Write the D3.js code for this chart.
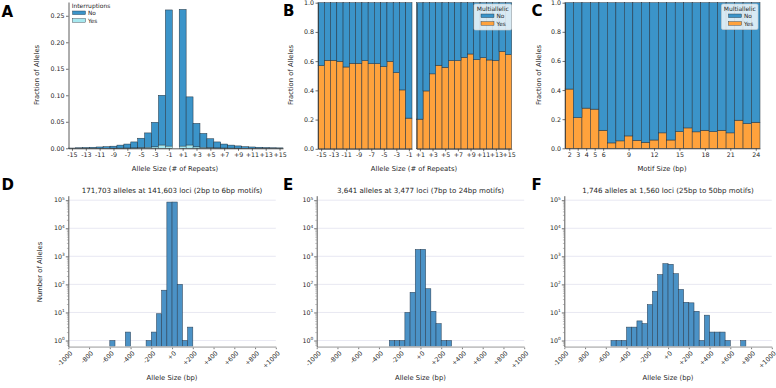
<!DOCTYPE html>
<html><head><meta charset="utf-8">
<script src="https://cdn.jsdelivr.net/npm/d3@7"></script>
<style>body{margin:0;background:#fff} svg{display:block} text{font-family:"DejaVu Sans",sans-serif;fill:#262626}</style>
</head><body><svg id="c" width="776" height="388"></svg>
<script>
// ---------- DATA ----------
const repeatNeg = [-15,-14,-13,-12,-11,-10,-9,-8,-7,-6,-5,-4,-3,-2,-1];
const repeatPos = [1,2,3,4,5,6,7,8,9,10,11,12,13,14,15];
const repeatTicksNeg = [-15,-13,-11,-9,-7,-5,-3,-1];
const repeatTicksPos = [1,3,5,7,9,11,13,15];
// Panel A: fraction of alleles (stacked: Yes at bottom, No on top)
const aNoNeg  = [0.0005,0.001,0.0015,0.002,0.0025,0.003,0.0038,0.0057,0.0076,0.0114,0.018,0.0275,0.0465,0.094,0.257];
const aYesNeg = [0,0,0,0,0,0,0.0002,0.0003,0.0004,0.0006,0.001,0.0015,0.0025,0.006,0.004];
const aNoPos  = [0.258,0.091,0.0445,0.0265,0.017,0.0114,0.0076,0.0057,0.0043,0.003,0.0025,0.002,0.0015,0.001,0.0008];
const aYesPos = [0.004,0.006,0.0025,0.0015,0.001,0.0006,0.0004,0.0003,0.0002,0,0,0,0,0,0];
const aYTicks = [0,0.05,0.10,0.15,0.20,0.25];
// Panel B: multiallelic "Yes" fraction by allele size
const bYesNeg = [0.569,0.606,0.606,0.599,0.560,0.585,0.585,0.604,0.583,0.583,0.563,0.599,0.522,0.403,0.210];
const bYesPos = [0.203,0.396,0.513,0.572,0.558,0.604,0.604,0.626,0.649,0.610,0.624,0.608,0.604,0.667,0.645];
const fracTicks = [0,0.2,0.4,0.6,0.8,1.0];
// Panel C: multiallelic "Yes" fraction by motif size
const motifSizes = [2,3,4,5,6,7,8,9,10,11,12,13,14,15,16,17,18,19,20,21,22,23,24];
const cYes = [0.407,0.211,0.276,0.269,0.124,0.037,0.051,0.085,0.055,0.041,0.057,0.106,0.057,0.115,0.140,0.113,0.124,0.115,0.124,0.106,0.193,0.170,0.179];
const motifTicks = [2,3,4,5,6,9,12,15,18,21,24];
// Panels D-F: allele size histograms (50bp bins, bin start in bp)
const binWidth = 50;
const dBinStart = [-600,-450,-250,-200,-150,-100,-50,0,50,100,150];
const dCounts   = [1,2,1,2,9,62,85600,86000,100,1,3];
const eBinStart = [-300,-250,-200,-150,-100,-50,0,50,100,150,200,250];
const eCounts   = [1,1,1,10,52,1750,1770,70,11,4,1,1];
const fBinStart = [-550,-500,-450,-400,-350,-300,-250,-200,-150,-100,-50,0,50,100,150,200,250,300,350,400,450,500,550,700];
const fCounts   = [1,1,1,3,3,5,4,19,57,223,545,520,240,66,23,22,11,1,8,2,2,2,1,1];
const bpTicks = [-1000,-800,-600,-400,-200,0,200,400,600,800,1000];
const bpTickLabels = ["-1000","-800","-600","-400","-200","+0","+200","+400","+600","+800","+1000"];
const logTicks = [1,10,100,1000,10000,100000];
const logTickExp = ["0","1","2","3","4","5"];
const titles = ["171,703 alleles at 141,603 loci (2bp to 6bp motifs)","3,641 alleles at 3,477 loci (7bp to 24bp motifs)","1,746 alleles at 1,560 loci (25bp to 50bp motifs)"];

// ---------- STYLE ----------
const BLUE = "#3b94c9", ORANGE = "#ffa23c", CYAN = "#a6e8ef", EDGE = "#22303c";
const HBLUE = "#4b92c6", HEDGE = "#2c4257";
const TF = 6.3, LF = 6.8;

const svg = d3.select("#c");
const signFmt = d => d > 0 ? "+" + d : String(d);

function styleAxis(g){
  g.selectAll("path.domain").attr("stroke","#333").attr("stroke-width",0.8);
  g.selectAll(".tick line").attr("stroke","#333").attr("stroke-width",0.7);
  g.selectAll(".tick text").attr("font-size",TF).attr("font-family","DejaVu Sans").attr("fill","#333");
}
function letter(t,x,y){
  svg.append("text").attr("x",x).attr("y",y).text(t)
    .attr("font-family","Liberation Sans, Arial, sans-serif").attr("font-weight","bold")
    .attr("font-size",15).style("fill","#000");
}
function yLabel(t,x,y){
  svg.append("text").attr("transform",`translate(${x},${y}) rotate(-90)`).attr("text-anchor","middle")
    .attr("font-size",LF).text(t);
}
function xLabel(t,x,y){
  svg.append("text").attr("x",x).attr("y",y).attr("text-anchor","middle").attr("font-size",LF).text(t);
}
function legend(x,y,w,h,title,items,framed){
  const g = svg.append("g").attr("transform",`translate(${x},${y})`);
  if(framed) g.append("rect").attr("width",w).attr("height",h).attr("rx",1.5)
      .attr("fill","#fff").attr("fill-opacity",0.8).attr("stroke","#ccc").attr("stroke-width",0.6);
  g.append("text").attr("x",w/2).attr("y",6.6).attr("text-anchor","middle").attr("font-size",6).text(title);
  items.forEach((it,i)=>{
    g.append("rect").attr("x",framed?7:6.5).attr("y",10+i*7.6).attr("width",13).attr("height",3.6)
      .attr("fill",it.c).attr("stroke",EDGE).attr("stroke-width",0.4);
    g.append("text").attr("x",framed?22.5:22).attr("y",14+i*7.6).attr("font-size",5.8).text(it.t);
  });
}

// ---------- PANEL A ----------
{
  const x = d3.scaleLinear().domain([-15.5,15.5]).range([68.5,283]);
  const y = d3.scaleLinear().domain([0,0.276]).range([148.3,2]);
  const rows = repeatNeg.map((r,i)=>({r,no:aNoNeg[i],yes:aYesNeg[i]}))
    .concat(repeatPos.map((r,i)=>({r,no:aNoPos[i],yes:aYesPos[i]})));
  const g = svg.append("g");
  g.selectAll(".no").data(rows).join("rect")
    .attr("x",d=>x(d.r-0.5)).attr("width",d=>x(d.r+0.5)-x(d.r-0.5))
    .attr("y",d=>y(d.no+d.yes)).attr("height",d=>y(d.yes)-y(d.no+d.yes))
    .attr("fill",BLUE).attr("stroke",EDGE).attr("stroke-width",0.5);
  g.selectAll(".yes").data(rows.filter(d=>d.yes>0)).join("rect")
    .attr("x",d=>x(d.r-0.5)).attr("width",d=>x(d.r+0.5)-x(d.r-0.5))
    .attr("y",d=>y(d.yes)).attr("height",d=>y(0)-y(d.yes))
    .attr("fill",CYAN).attr("stroke",EDGE).attr("stroke-width",0.4);
  const ax = svg.append("g").attr("transform",`translate(0,${y(0)})`)
    .call(d3.axisBottom(x).tickValues(repeatTicksNeg.concat(repeatTicksPos)).tickFormat(signFmt).tickSize(2.5).tickSizeOuter(0).tickPadding(1.5));
  styleAxis(ax);
  const ay = svg.append("g").attr("transform",`translate(${x.range()[0]},0)`)
    .call(d3.axisLeft(y).tickValues(aYTicks).tickFormat(d3.format(".2f")).tickSize(2.5).tickSizeOuter(0).tickPadding(1.5));
  styleAxis(ay);
  yLabel("Fraction of Alleles",38.5,75);
  xLabel("Allele Size (# of Repeats)",175,170.5);
  legend(66,1,50,26,"Interruptions",[{t:"No",c:BLUE},{t:"Yes",c:CYAN}],false);
  letter("A",1.5,17);
}

// ---------- PANEL B ----------
{
  const y = d3.scaleLinear().domain([0,1]).range([148.8,2.7]);
  const parts = [
    {cats:repeatNeg, vals:bYesNeg, dom:[-15.5,-0.5], rng:[318,412], ticks:repeatTicksNeg, left:true},
    {cats:repeatPos, vals:bYesPos, dom:[0.5,15.5], rng:[416.7,511.7], ticks:repeatTicksPos, left:false}
  ];
  parts.forEach(p=>{
    const x = d3.scaleLinear().domain(p.dom).range(p.rng);
    const rows = p.cats.map((c,i)=>({c,yes:p.vals[i]}));
    const g = svg.append("g");
    g.selectAll(".yes").data(rows).join("rect")
      .attr("x",d=>x(d.c-0.5)).attr("width",d=>x(d.c+0.5)-x(d.c-0.5))
      .attr("y",d=>y(d.yes)).attr("height",d=>y(0)-y(d.yes))
      .attr("fill",ORANGE).attr("stroke",EDGE).attr("stroke-width",0.5);
    g.selectAll(".no").data(rows).join("rect")
      .attr("x",d=>x(d.c-0.5)).attr("width",d=>x(d.c+0.5)-x(d.c-0.5))
      .attr("y",y(1)).attr("height",d=>y(d.yes)-y(1))
      .attr("fill",BLUE).attr("stroke",EDGE).attr("stroke-width",0.5);
    const ax = svg.append("g").attr("transform",`translate(0,${y(0)})`)
      .call(d3.axisBottom(x).tickValues(p.ticks).tickFormat(signFmt).tickSize(2.5).tickSizeOuter(0).tickPadding(1.5));
    styleAxis(ax);
    const ay = svg.append("g").attr("transform",`translate(${p.rng[0]},0)`)
      .call(d3.axisLeft(y).tickValues(p.left?fracTicks:[]).tickFormat(d3.format(".1f")).tickSize(2.5).tickSizeOuter(0).tickPadding(1.5));
    styleAxis(ay);
  });
  yLabel("Fraction of Alleles",293.3,75);
  xLabel("Allele Size (# of Repeats)",414,170.5);
  legend(474,4,37.5,26,"Multiallelic",[{t:"No",c:BLUE},{t:"Yes",c:ORANGE}],true);
  letter("B",283,16);
}

// ---------- PANEL C ----------
{
  const x = d3.scaleLinear().domain([1.5,24.5]).range([565,760]);
  const y = d3.scaleLinear().domain([0,1]).range([148.3,2.7]);
  const rows = motifSizes.map((m,i)=>({m,yes:cYes[i]}));
  const g = svg.append("g");
  g.selectAll(".yes").data(rows).join("rect")
    .attr("x",d=>x(d.m-0.5)).attr("width",d=>x(d.m+0.5)-x(d.m-0.5))
    .attr("y",d=>y(d.yes)).attr("height",d=>y(0)-y(d.yes))
    .attr("fill",ORANGE).attr("stroke",EDGE).attr("stroke-width",0.5);
  g.selectAll(".no").data(rows).join("rect")
    .attr("x",d=>x(d.m-0.5)).attr("width",d=>x(d.m+0.5)-x(d.m-0.5))
    .attr("y",y(1)).attr("height",d=>y(d.yes)-y(1))
    .attr("fill",BLUE).attr("stroke",EDGE).attr("stroke-width",0.5);
  const ax = svg.append("g").attr("transform",`translate(0,${y(0)})`)
    .call(d3.axisBottom(x).tickValues(motifTicks).tickFormat(d3.format("d")).tickSize(2.5).tickSizeOuter(0).tickPadding(1.5));
  styleAxis(ax);
  const ay = svg.append("g").attr("transform",`translate(565,0)`)
    .call(d3.axisLeft(y).tickValues(fracTicks).tickFormat(d3.format(".1f")).tickSize(2.5).tickSizeOuter(0).tickPadding(1.5));
  styleAxis(ay);
  yLabel("Fraction of Alleles",541,75);
  xLabel("Motif Size (bp)",662,170.5);
  legend(721.5,4,36.5,25.5,"Multiallelic",[{t:"No",c:BLUE},{t:"Yes",c:ORANGE}],true);
  letter("C",531.5,16);
}

// ---------- PANELS D-F ----------
const hist = [
  {starts:dBinStart, counts:dCounts, x0:68.3, L:"D", lx:1.5, ylab:true},
  {starts:eBinStart, counts:eCounts, x0:316.7, L:"E", lx:283, ylab:false},
  {starts:fBinStart, counts:fCounts, x0:564.3, L:"F", lx:531.5, ylab:false}
];
hist.forEach((h,k)=>{
  const x = d3.scaleLinear().domain([-1000,1000]).range([h.x0,h.x0+207.5]);
  const y = d3.scaleLog().domain([Math.pow(10,-0.22),Math.pow(10,5.16)]).range([346.7,195.7]);
  const g = svg.append("g");
  g.selectAll(".grid").data(logTicks).join("line")
    .attr("x1",x(-1000)).attr("x2",x(1000)).attr("y1",d=>y(d)).attr("y2",d=>y(d))
    .attr("stroke","#e2e2ef").attr("stroke-width",0.8);
  const rows = h.starts.map((s,i)=>({s,c:h.counts[i]}));
  g.selectAll(".bar").data(rows).join("rect")
    .attr("x",d=>x(d.s)).attr("width",d=>x(d.s+binWidth)-x(d.s))
    .attr("y",d=>y(d.c)).attr("height",d=>y.range()[0]-y(d.c))
    .attr("fill",HBLUE).attr("stroke",HEDGE).attr("stroke-width",0.55);
  const ax = svg.append("g").attr("transform",`translate(0,346.7)`)
    .call(d3.axisBottom(x).tickValues(bpTicks).tickFormat("").tickSize(2.5).tickSizeOuter(0));
  ax.selectAll("path.domain").attr("stroke","#c4c4c4").attr("stroke-width",1.8);
  ax.selectAll(".tick line").attr("stroke","#444").attr("stroke-width",0.7).attr("y1",1);
  svg.append("g").selectAll("text").data(bpTicks).join("text")
    .attr("transform",(d)=>`translate(${x(d)+1.5},350.5) rotate(-45)`)
    .attr("text-anchor","end").attr("dy","0.7em").attr("font-size",TF)
    .text((d,i)=>bpTickLabels[i]);
  const ay = svg.append("g").attr("transform",`translate(${h.x0},0)`)
    .call(d3.axisLeft(y).tickValues(logTicks).tickFormat("").tickSize(2.5).tickSizeOuter(0));
  ay.selectAll("path.domain").attr("stroke","#333").attr("stroke-width",0.8);
  ay.selectAll(".tick line").attr("stroke","#333").attr("stroke-width",0.7);
  const minors = [];
  [0.1,1,10,100,1000,10000,100000].forEach(b=>{[2,3,4,5,6,7,8,9].forEach(m=>{const v=b*m; if(v>y.domain()[0]&&v<y.domain()[1]) minors.push(v);});});
  const am = svg.append("g").attr("transform",`translate(${h.x0},0)`)
    .call(d3.axisLeft(y).tickValues(minors).tickFormat("").tickSize(1.4).tickSizeOuter(0));
  am.selectAll("path.domain").remove();
  am.selectAll(".tick line").attr("stroke","#555").attr("stroke-width",0.4);
  const lbl = svg.append("g").selectAll("text").data(logTicks).join("text")
    .attr("x",h.x0-3.5).attr("y",d=>y(d)+2.2).attr("text-anchor","end").attr("font-size",TF);
  lbl.append("tspan").text("10");
  lbl.append("tspan").attr("dy",-2.8).attr("font-size",4.3).text((d,i)=>logTickExp[i]);
  svg.append("text").attr("x",(x(-1000)+x(1000))/2).attr("y",192.8).attr("text-anchor","middle")
    .attr("font-size",7.1).text(titles[k]);
  xLabel("Allele Size (bp)",(x(-1000)+x(1000))/2,379.5);
  if(h.ylab) yLabel("Number of Alleles",42,272);
  letter(h.L,h.lx,190);
});
</script></body></html>
